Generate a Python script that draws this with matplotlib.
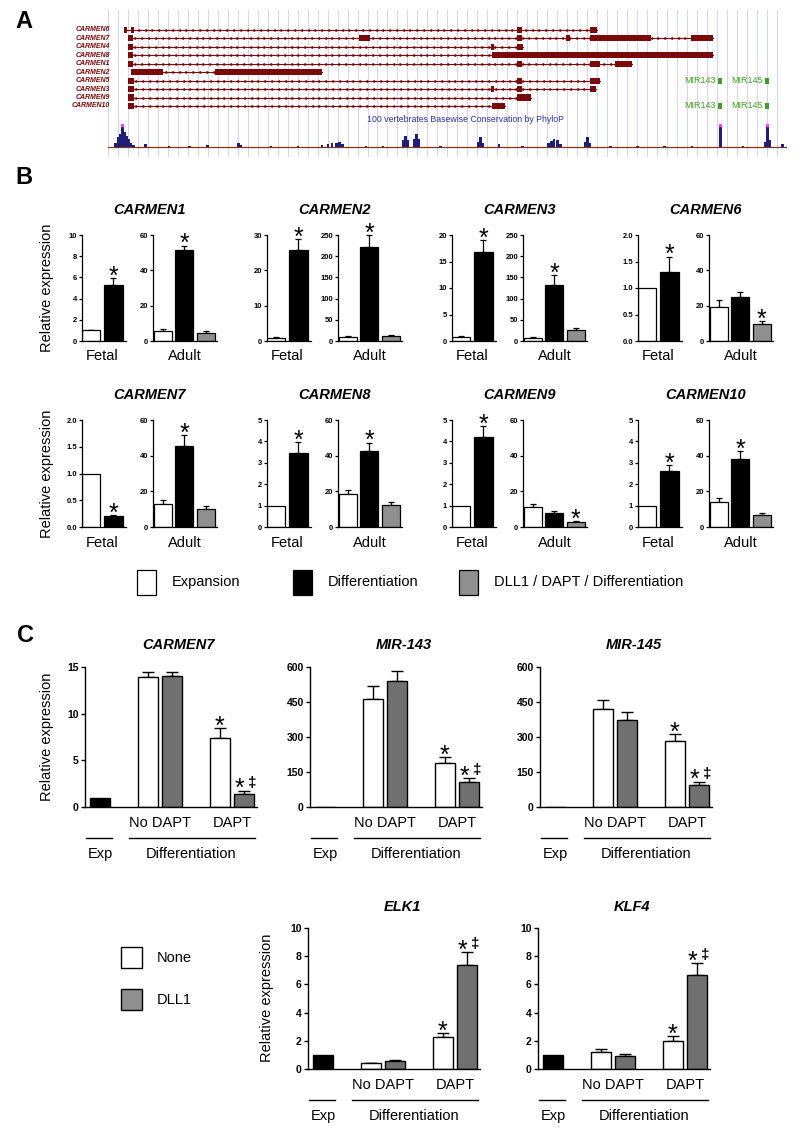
import matplotlib
matplotlib.use('Agg')
import matplotlib.pyplot as plt
import matplotlib.patches as mpatches
import numpy as np

plt.rcParams['font.family'] = ['Liberation Sans', 'DejaVu Sans']

# ---------------- panel A: gene models (track units 0-100) ----------------
gene_names = ['CARMEN6', 'CARMEN7', 'CARMEN4', 'CARMEN8', 'CARMEN1',
              'CARMEN2', 'CARMEN5', 'CARMEN3', 'CARMEN9', 'CARMEN10']
gene_start = [2.4, 2.9, 2.9, 2.9, 2.9, 3.4, 3.0, 3.0, 3.0, 3.0]
gene_end = [72.0, 89.1, 61.1, 89.1, 77.2, 31.5, 72.5, 71.9, 62.3, 58.5]
gene_exons = [
    [(2.4, 2.8), (3.4, 3.9), (60.3, 60.9), (71.0, 72.0)],
    [(2.9, 3.7), (37.0, 38.6), (60.3, 60.9), (67.4, 68.0), (71.0, 80.0), (85.9, 89.1)],
    [(2.9, 3.7), (56.4, 56.9), (60.3, 61.1)],
    [(2.9, 3.7), (56.6, 89.1)],
    [(2.9, 3.7), (60.3, 60.9), (71.0, 72.4), (74.7, 77.2)],
    [(3.4, 8.1), (15.8, 31.5)],
    [(3.0, 3.8), (60.3, 60.9), (71.0, 72.5)],
    [(3.0, 3.8), (56.4, 56.9), (60.3, 60.9), (71.0, 71.9)],
    [(3.0, 3.8), (60.3, 62.3)],
    [(3.0, 3.8), (56.6, 58.5)],
]
mir_names = ['MIR143', 'MIR145']
mir_pos = [90.1, 97.1]
mir_rows = [6, 9]

# conservation peaks (position, height)
cons_pos = [1.1, 1.5, 1.8, 2.1, 2.4, 2.7, 3.0, 3.4, 3.8, 5.5, 9.0, 12.0, 14.7, 19.2, 19.5,
            24.0, 28.0, 31.5, 32.4, 33.0, 33.6, 34.1, 34.5, 38.0, 40.5, 43.5, 43.8, 44.1,
            45.1, 45.4, 45.7, 49.0, 54.6, 54.9, 55.2, 57.6, 61.0, 64.9, 65.3, 65.7, 66.2,
            66.6, 70.3, 70.6, 70.9, 74.0, 78.0, 82.0, 86.0, 90.2, 93.5, 96.8, 97.1, 97.5, 99.3]
cons_h = [0.2, 0.45, 0.6, 1.0, 0.7, 0.5, 0.35, 0.2, 0.1, 0.15, 0.05, 0.06, 0.08, 0.2, 0.1,
          0.06, 0.07, 0.1, 0.15, 0.18, 0.2, 0.25, 0.15, 0.06, 0.06, 0.3, 0.5, 0.3,
          0.35, 0.6, 0.35, 0.06, 0.25, 0.45, 0.2, 0.12, 0.05, 0.2, 0.28, 0.35, 0.3,
          0.15, 0.25, 0.45, 0.2, 0.05, 0.06, 0.05, 0.05, 1.0, 0.05, 0.25, 1.0, 0.3, 0.12]

# ---------------- panel B ----------------
b_genes = ['CARMEN1', 'CARMEN2', 'CARMEN3', 'CARMEN6',
           'CARMEN7', 'CARMEN8', 'CARMEN9', 'CARMEN10']
fetal_exp = [1.02, 0.95, 0.8, 1.0, 1.0, 1.0, 1.0, 1.0]
fetal_exp_err = [0.05, 0.1, 0.05, 0, 0, 0, 0, 0]
fetal_diff = [5.3, 25.7, 16.8, 1.3, 0.2, 3.48, 4.19, 2.6]
fetal_diff_err = [0.64, 3.2, 2.2, 0.29, 0.02, 0.47, 0.53, 0.3]
fetal_ticks = [[0, 2, 4, 6, 8, 10], [0, 10, 20, 30], [0, 5, 10, 15, 20],
               [0.0, 0.5, 1.0, 1.5, 2.0], [0.0, 0.5, 1.0, 1.5, 2.0],
               [0, 1, 2, 3, 4, 5], [0, 1, 2, 3, 4, 5], [0, 1, 2, 3, 4, 5]]
adult_exp = [5.7, 10.3, 7.9, 19.4, 13.1, 18.75, 11.25, 14.1]
adult_exp_err = [1.3, 2.4, 2.4, 3.8, 1.9, 1.9, 1.5, 2.4]
adult_diff = [51.4, 222, 133, 24.8, 45.6, 42.8, 7.9, 38.4]
adult_diff_err = [2.5, 27, 23, 2.8, 6.0, 4.5, 1.1, 4.2]
adult_dll = [4.8, 11.9, 25.4, 9.9, 10.1, 12.4, 2.8, 6.6]
adult_dll_err = [0.6, 2.4, 4.6, 1.5, 1.7, 1.7, 0.6, 1.3]
adult_ticks = [[0, 20, 40, 60], [0, 50, 100, 150, 200, 250], [0, 50, 100, 150, 200, 250],
               [0, 20, 40, 60], [0, 20, 40, 60], [0, 20, 40, 60], [0, 20, 40, 60],
               [0, 20, 40, 60]]
adult_star = [1, 1, 1, 2, 1, 1, 2, 1]
b_legend = ['Expansion', 'Differentiation', 'DLL1 / DAPT / Differentiation']

# ---------------- panel C ----------------
c_genes = ['CARMEN7', 'MIR-143', 'MIR-145', 'ELK1', 'KLF4']
exp_val = [1.0, 1.0, 1.0, 1.0, 1.0]
none_nodapt = [13.9, 464, 420, 0.4, 1.2]
none_nodapt_err = [0.6, 53, 39, 0.03, 0.2]
dll1_nodapt = [14.07, 542, 373, 0.6, 0.92]
dll1_nodapt_err = [0.35, 40, 35, 0.03, 0.12]
none_dapt = [7.39, 189, 284, 2.24, 1.98]
none_dapt_err = [1.07, 25, 29, 0.3, 0.37]
dll1_dapt = [1.39, 107, 94, 7.39, 6.7]
dll1_dapt_err = [0.36, 17, 14, 0.9, 0.83]
c_ticks = [[0, 5, 10, 15], [0, 150, 300, 450, 600], [0, 150, 300, 450, 600],
           [0, 2, 4, 6, 8, 10], [0, 2, 4, 6, 8, 10]]
c_legend = ['None', 'DLL1']

track_red = '#7a0a0a'
mir_green = '#3f9f1f'
navy = '#1e1e78'
gray_b = '#8f8f8f'
gray_c = '#707070'

W, H = 800, 1139
fig = plt.figure(figsize=(8, 11.39), dpi=100)


def px_box(x0, y0, x1, y1):
    return [x0 / W, 1 - y1 / H, (x1 - x0) / W, (y1 - y0) / H]


def fx(x):
    return x / W


def fy(y):
    return 1 - y / H


def style(ax, ticks, fs, tlen, lw):
    for s in ['top', 'right']:
        ax.spines[s].set_visible(False)
    for s in ['left', 'bottom']:
        ax.spines[s].set_linewidth(lw)
    ax.set_xticks([])
    ax.set_yticks(ticks)
    if any(isinstance(t, float) for t in ticks):
        labels = ['%.1f' % t for t in ticks]
    else:
        labels = [str(t) for t in ticks]
    ax.set_yticklabels(labels, fontsize=fs, fontweight='bold')
    ax.tick_params(axis='y', length=tlen, width=lw, pad=1)
    ax.set_ylim(0, ticks[-1])


def bars(ax, pos, vals, errs, colors, width, cap, lw):
    ax.bar(pos, vals, width=width, color=colors, edgecolor='black', linewidth=lw, zorder=2)
    for p, v, e in zip(pos, vals, errs):
        if e > 0:
            ax.errorbar(p, v, yerr=[[0], [e]], fmt='none', ecolor='black', elinewidth=lw,
                        capsize=cap, capthick=lw, zorder=1, clip_on=False)


def star(ax, x, top, dagger=False):
    if dagger:
        ax.annotate('*', (x, top), xytext=(-3.2, -4), textcoords='offset points',
                    ha='center', va='baseline', fontsize=18, annotation_clip=False)
        ax.annotate('\u2021', (x, top), xytext=(6, 3), textcoords='offset points',
                    ha='center', va='baseline', fontsize=11, weight='bold',
                    annotation_clip=False)
    else:
        ax.annotate('*', (x, top), xytext=(0, -4), textcoords='offset points',
                    ha='center', va='baseline', fontsize=18, annotation_clip=False)


# panel letters
for letter, (lx, ly) in zip(['A', 'B', 'C'], [(24, 21), (24, 177), (25, 636)]):
    fig.text(fx(lx), fy(ly), letter, fontsize=17, weight='bold', ha='center', va='center')

# ---------------- panel A ----------------
axA = fig.add_axes(px_box(108, 10, 787, 157))
axA.set_xlim(0, 100)
axA.set_ylim(15.05, -2.37)
axA.axis('off')
for gx in np.arange(0, 100.5, 1.47):
    axA.axvline(gx, color='#d2d2f6', lw=0.7, zorder=0)

for i, name in enumerate(gene_names):
    axA.plot([gene_start[i], gene_end[i]], [i, i], color=track_red, lw=0.8, zorder=2)
    arrows = np.arange(gene_start[i] + 1.0, gene_end[i] - 0.5, 1.0)
    axA.plot(arrows, [i] * len(arrows), ls='none', marker='<', ms=2.0, mfc='none',
             mec=track_red, mew=0.4, zorder=2)
    axA.broken_barh([(s, e - s) for s, e in gene_exons[i]], (i - 0.36, 0.72),
                    facecolor=track_red, zorder=3)
    axA.text(0.3, i, name, ha='right', va='center', fontsize=5, style='italic',
             weight='bold', color=track_red, clip_on=False)

for row in mir_rows:
    for lbl, p in zip(mir_names, mir_pos):
        axA.broken_barh([(p - 0.3, 0.6)], (row - 0.36, 0.72), facecolor=mir_green, zorder=3)
        axA.text(p - 0.6, row, lbl, ha='right', va='center', fontsize=6.5, color=mir_green)

axCons = fig.add_axes(px_box(108, 118, 787, 155))
axCons.set_xlim(0, 100)
axCons.set_ylim(-0.36, 1.32)
axCons.axis('off')
axCons.axhline(0, color='#7a3a12', lw=0.9, zorder=1)
axCons.bar(cons_pos, cons_h, width=0.4, color=navy, zorder=2)
tops = [p for p, h in zip(cons_pos, cons_h) if h >= 1.0]
axCons.plot(tops, [1.0] * len(tops), ls='none', marker='s', ms=1.5, color='#ff44ff', zorder=3)
axCons.text(52.6, 1.23, '100 vertebrates Basewise Conservation by PhyloP', ha='center',
            va='center', fontsize=6.3, color='#30309a')

# ---------------- panel B ----------------
fetal_left = [82, 267, 452, 638]
adult_left = [153, 338, 523, 709]
row_top = [235, 420]
row_bot = [341, 527]
title_y = [210, 395]
label_y = [356, 543]

for k, gene in enumerate(b_genes):
    r, c = k // 4, k % 4
    top, bot = row_top[r], row_bot[r]
    lab_frac = (bot - label_y[r]) / (bot - top)

    axf = fig.add_axes(px_box(fetal_left[c], top, fetal_left[c] + 43.6, bot))
    style(axf, fetal_ticks[k], 5.5, 2.5, 0.9)
    axf.set_xlim(-0.43, 1.55)
    bars(axf, [0, 1], [fetal_exp[k], fetal_diff[k]], [fetal_exp_err[k], fetal_diff_err[k]],
         ['white', 'black'], 0.82, 2.5, 0.9)
    star(axf, 1, fetal_diff[k] + fetal_diff_err[k])
    axf.text(0.5, lab_frac, 'Fetal', transform=axf.get_xaxis_transform(), ha='center',
             va='center', fontsize=10.5)

    axa = fig.add_axes(px_box(adult_left[c], top, adult_left[c] + 63.6, bot))
    style(axa, adult_ticks[k], 5.5, 2.5, 0.9)
    axa.set_xlim(-0.46, 2.5)
    vals = [adult_exp[k], adult_diff[k], adult_dll[k]]
    errs = [adult_exp_err[k], adult_diff_err[k], adult_dll_err[k]]
    bars(axa, [0, 1, 2], vals, errs, ['white', 'black', gray_b], 0.84, 2.5, 0.9)
    s = adult_star[k]
    star(axa, s, vals[s] + errs[s])
    axa.text(1, lab_frac, 'Adult', transform=axa.get_xaxis_transform(), ha='center',
             va='center', fontsize=10.5)

    fig.text(fx((fetal_left[c] + adult_left[c] + 63.6) / 2), fy(title_y[r]), gene,
             ha='center', va='center', fontsize=10.5, weight='bold', style='italic')

for r in range(2):
    fig.text(fx(47), fy((row_top[r] + row_bot[r]) / 2), 'Relative expression', rotation=90,
             ha='center', va='center', fontsize=10.5)

# legend B
for lbl, colr, bx in zip(b_legend, ['white', 'black', gray_b], [137, 293, 459]):
    fig.add_artist(mpatches.Rectangle((fx(bx), fy(595)), 19 / W, 25 / H, transform=fig.transFigure,
                                      facecolor=colr, edgecolor='black', lw=0.9))
    fig.text(fx(bx + 35), fy(582), lbl, ha='left', va='center', fontsize=10.5)

# ---------------- panel C ----------------
c_left = [85, 310, 540, 308, 538]
c_top = [667, 667, 667, 928, 928]
c_bot = [807, 807, 807, 1069, 1069]
c_title_y = [645, 645, 645, 907, 907]
c_pos = [0, 2, 3, 5, 6]
c_colors = ['black', 'white', gray_c, 'white', gray_c]

for k, gene in enumerate(c_genes):
    top, bot = c_top[k], c_bot[k]
    hgt = bot - top
    ax = fig.add_axes(px_box(c_left[k], top, c_left[k] + 172, bot))
    style(ax, c_ticks[k], 7.5, 3, 1.0)
    ax.set_xlim(-0.625, 6.55)
    ax.tick_params(axis='y', pad=1.5)
    vals = [exp_val[k], none_nodapt[k], dll1_nodapt[k], none_dapt[k], dll1_dapt[k]]
    errs = [0, none_nodapt_err[k], dll1_nodapt_err[k], none_dapt_err[k], dll1_dapt_err[k]]
    bars(ax, c_pos, vals, errs, c_colors, 0.82, 4.3, 1.0)
    star(ax, 5, vals[3] + errs[3])
    star(ax, 6, vals[4] + errs[4], dagger=True)

    tr = ax.get_xaxis_transform()
    ax.text(2.5, -16 / hgt, 'No DAPT', transform=tr, ha='center', va='center', fontsize=10.5)
    ax.text(5.5, -16 / hgt, 'DAPT', transform=tr, ha='center', va='center', fontsize=10.5)
    ax.plot([-0.6, 0.5], [-31 / hgt] * 2, transform=tr, color='black', lw=1.0, clip_on=False)
    ax.plot([1.2, 6.45], [-31 / hgt] * 2, transform=tr, color='black', lw=1.0, clip_on=False)
    ax.text(0, -47 / hgt, 'Exp', transform=tr, ha='center', va='center', fontsize=10.5)
    ax.text(3.8, -47 / hgt, 'Differentiation', transform=tr, ha='center', va='center',
            fontsize=10.5)

    fig.text(fx(c_left[k] + 94), fy(c_title_y[k]), gene, ha='center', va='center',
             fontsize=10.5, weight='bold', style='italic')

fig.text(fx(47), fy(737), 'Relative expression', rotation=90, ha='center', va='center',
         fontsize=10.5)
fig.text(fx(267), fy(998), 'Relative expression', rotation=90, ha='center', va='center',
         fontsize=10.5)

# legend C
for lbl, colr, by in zip(c_legend, ['white', gray_b], [947, 989]):
    fig.add_artist(mpatches.Rectangle((fx(121), fy(by + 21)), 21 / W, 21 / H,
                                      transform=fig.transFigure, facecolor=colr,
                                      edgecolor='black', lw=1.0))
    fig.text(fx(157), fy(by + 10.5), lbl, ha='left', va='center', fontsize=10.5)

fig.savefig('out.png', dpi=100)
